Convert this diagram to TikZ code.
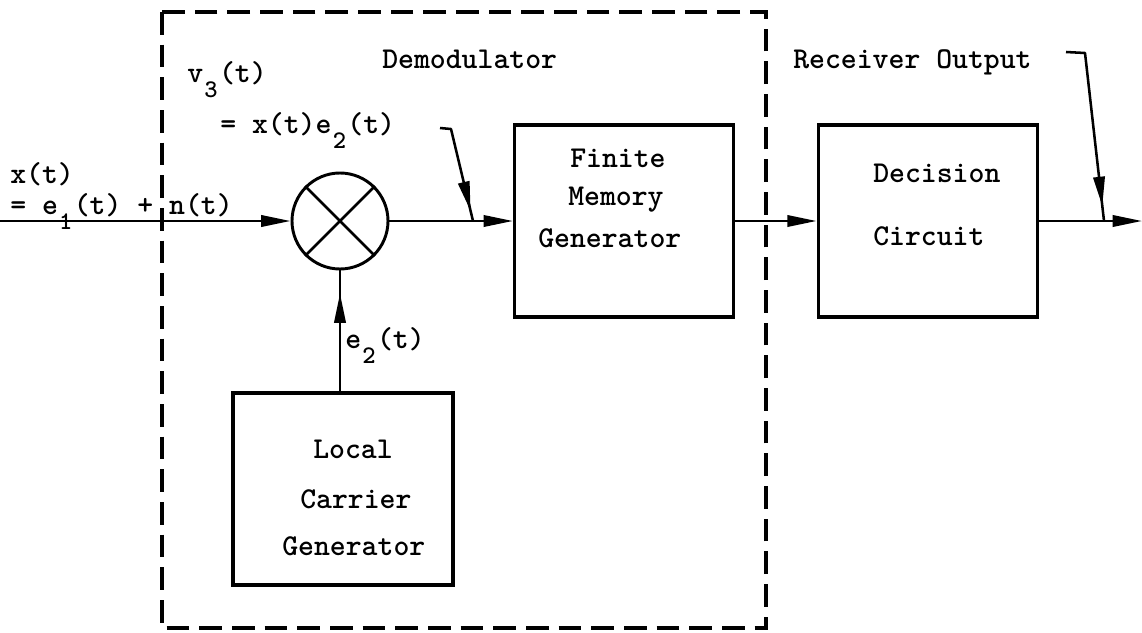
\documentclass[tikz,border=0pt]{standalone}
\usetikzlibrary{arrows.meta,decorations.markings}
\newcommand\tsub[1]{\makebox[0.525em][c]{\raisebox{-0.5em}{\fontsize{19}{19}\selectfont #1}}}
\begin{document}
\begin{tikzpicture}[x=0.75pt,y=-0.75pt,
  >={Triangle[length=22pt,width=8.5pt]},
  lbl/.style={font=\fontsize{22.7}{27}\selectfont\ttfamily\bfseries, inner sep=0pt, anchor=base west},
  blk/.style={draw, line width=2.6pt, inner sep=0pt, minimum width=164pt, minimum height=144pt},
  conn/.style={line width=1.9pt},
  dashbox/.style={line width=2.4pt, dash pattern=on 17pt off 7.5pt},
  arrowat/.style={postaction={decorate},decoration={markings,mark=at position #1 with {\arrow{>}}}}]
\useasboundingbox (0,0) rectangle (1142,632);
% demodulator frame
\draw[dashbox] (162,12) rectangle (766,628);
% blocks
\node[draw, circle, line width=2.2pt, minimum size=72pt, inner sep=0pt] (mix) at (340,221) {};
\draw[line width=2pt] (mix.45) -- (mix.225) (mix.135) -- (mix.315);
\node[blk] (fmg) at (624,221) {};
\node[blk, minimum width=164.5pt] (dec) at (928,221) {};
\node[blk, minimum width=165pt] (lcg) at (343,489) {};
% texts
\node[lbl] (xt) at (10,183) {x(t)};
\node[lbl] (xeq) at (10,214) {= e\tsub{1}(t) + n(t)};
\node[lbl] (v3) at (187,82) {v\tsub{3}(t)};
\node[lbl] (v3eq) at (220,133) {= x(t)e\tsub{2}(t)};
\node[lbl] (demod) at (382,68) {Demodulator};
\node[lbl] (recout) at (793,68) {Receiver Output};
\node[lbl] (e2) at (345,348) {e\tsub{2}(t)};
\node[lbl] (fmg1) at (570,167) {Finite};
\node[lbl] (fmg2) at (568,205) {Memory};
\node[lbl] (fmg3) at (538,247) {Generator};
\node[lbl] (dec1) at (873,182) {Decision};
\node[lbl] (dec2) at (873,245) {Circuit};
\node[lbl] (lcg1) at (313,458) {Local};
\node[lbl] (lcg2) at (300,508) {Carrier};
\node[lbl] (lcg3) at (282,555) {Generator};
% connectors
\coordinate (in0) at (0,221);
\coordinate (out) at (1142,221);
\draw[conn,->] (in0) -- (mix);
\draw[conn,->] (mix) -- (fmg);
\draw[conn,->] (fmg) -- (dec);
\draw[conn,->] (dec) -- (out);
\draw[conn, arrowat=0.81] (lcg.north -| mix) -- (mix.south);
% pointers
\coordinate (p1) at (440,128);
\coordinate (p2) at (451,129);
\coordinate (p3) at (473,221);
\draw[conn, line join=round, arrowat=0.9] (p1) -- (p2) -- (p3);
\coordinate (q1) at (1066,52);
\coordinate (q2) at (1085,53);
\coordinate (q3) at (1104,221);
\draw[conn, line join=round, arrowat=0.92] (q1) -- (q2) -- (q3);
\end{tikzpicture}
\end{document}
